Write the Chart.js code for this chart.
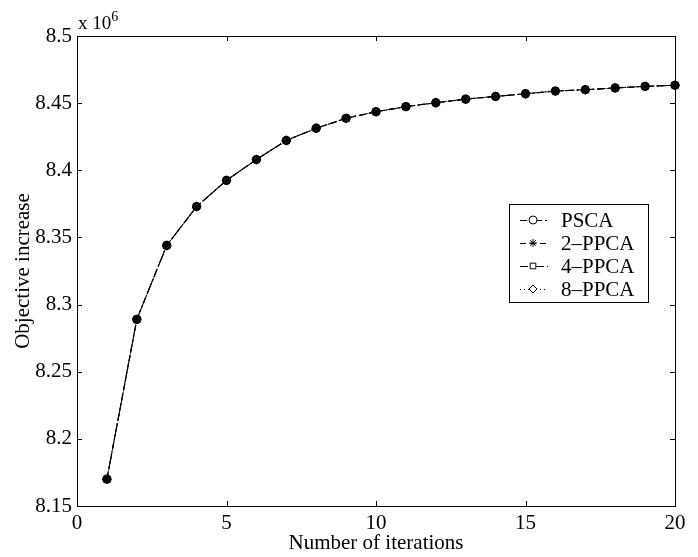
<!DOCTYPE html>
<html>
<head>
<meta charset="utf-8">
<script src="https://cdn.jsdelivr.net/npm/chart.js@4/dist/chart.umd.min.js"></script>
<style>
  html, body { margin: 0; padding: 0; background: #fff; }
  #chart { display: block; }
</style>
</head>
<body>
<canvas id="chart" width="698" height="557"></canvas>
<script>
// iterations on the x axis
const iterations = [1, 2, 3, 4, 5, 6, 7, 8, 9, 10, 11, 12, 13, 14, 15, 16, 17, 18, 19, 20];

// objective values (x 10^6), the four curves lie on top of each other
const psca  = [8.170, 8.289, 8.344, 8.373, 8.3925, 8.408, 8.4222, 8.4313, 8.4387, 8.4436, 8.4474, 8.4503, 8.453, 8.455, 8.457, 8.459, 8.460, 8.4613, 8.4625, 8.4633];
const ppca2 = [8.170, 8.289, 8.344, 8.373, 8.3925, 8.408, 8.4222, 8.4313, 8.4387, 8.4436, 8.4474, 8.4503, 8.453, 8.455, 8.457, 8.459, 8.460, 8.4613, 8.4625, 8.4633];
const ppca4 = [8.170, 8.289, 8.344, 8.373, 8.3925, 8.408, 8.4222, 8.4313, 8.4387, 8.4436, 8.4474, 8.4503, 8.453, 8.455, 8.457, 8.459, 8.460, 8.4613, 8.4625, 8.4633];
const ppca8 = [8.170, 8.289, 8.344, 8.373, 8.3925, 8.408, 8.4222, 8.4313, 8.4387, 8.4436, 8.4474, 8.4503, 8.453, 8.455, 8.457, 8.459, 8.460, 8.4613, 8.4625, 8.4633];

const seriesNames = ["PSCA", "2\u2013PPCA", "4\u2013PPCA", "8\u2013PPCA"];

// tick labels
const xTicks = [0, 5, 10, 15, 20];
const yTicks = [8.15, 8.2, 8.25, 8.3, 8.35, 8.4, 8.45, 8.5];

const FONT = "'Liberation Serif', 'Times New Roman', serif";

function points(ys) {
    return iterations.map((x, i) => ({x: x, y: ys[i]}));
}

function makeSet(label, ys, dash, style) {
    return {
        label: label,
        data: points(ys),
        borderColor: "#000",
        borderWidth: 1.1,
        borderDash: dash,
        backgroundColor: "rgba(0,0,0,0)",
        pointStyle: style,
        pointRadius: 4,
        pointBorderWidth: 1.3,
        pointBorderColor: "#000",
        pointBackgroundColor: "rgba(0,0,0,0)",
        tension: 0,
        fill: false,
        clip: false
    };
}

/*
    frame with inward ticks, the x 10^6 note and the boxed legend
*/
const matlabLook = {
    id: "matlabLook",
    afterDraw(chart) {
        const ctx = chart.ctx;
        const a = chart.chartArea;
        const xs = chart.scales.x, ys = chart.scales.y;
        const t = 5;
        ctx.save();
        ctx.strokeStyle = "#000";
        ctx.lineWidth = 1;
        ctx.setLineDash([]);
        ctx.strokeRect(Math.round(a.left) + 0.5, Math.round(a.top) + 0.5,
                       Math.round(a.right - a.left), Math.round(a.bottom - a.top));
        ctx.beginPath();
        xTicks.forEach(v => {
            const px = Math.round(xs.getPixelForValue(v)) + 0.5;
            ctx.moveTo(px, a.bottom); ctx.lineTo(px, a.bottom - t);
            ctx.moveTo(px, a.top); ctx.lineTo(px, a.top + t);
        });
        yTicks.forEach(v => {
            const py = Math.round(ys.getPixelForValue(v)) + 0.5;
            ctx.moveTo(a.left, py); ctx.lineTo(a.left + t, py);
            ctx.moveTo(a.right, py); ctx.lineTo(a.right - t, py);
        });
        ctx.stroke();

        // exponent note
        ctx.fillStyle = "#000";
        ctx.textBaseline = "alphabetic";
        ctx.textAlign = "left";
        ctx.font = "19px " + FONT;
        ctx.fillText("x 10", a.left + 1, 29);
        const w = ctx.measureText("x 10").width;
        ctx.font = "14px " + FONT;
        ctx.fillText("6", a.left + 1 + w, 21);

        // legend
        const bx = a.right - 166, by = 204, bw = 139, bh = 98;
        ctx.fillStyle = "#fff";
        ctx.fillRect(bx, by, bw, bh);
        ctx.strokeRect(bx + 0.5, by + 0.5, bw, bh);
        chart.data.datasets.forEach((ds, i) => {
            const y = by + 16 + i * 23;
            ctx.strokeStyle = "#000";
            ctx.lineWidth = 1;
            ctx.setLineDash(ds.borderDash);
            ctx.beginPath();
            ctx.moveTo(bx + 11, y + 0.5);
            ctx.lineTo(bx + 39, y + 0.5);
            ctx.stroke();
            ctx.setLineDash([]);
            ctx.fillStyle = "#fff";
            Chart.helpers.drawPoint(ctx, {pointStyle: ds.pointStyle, radius: 4, borderWidth: 1, rotation: 0}, bx + 24, y);
            ctx.fillStyle = "#000";
            ctx.font = "21px " + FONT;
            ctx.textBaseline = "middle";
            ctx.fillText(ds.label, bx + 52, y + 1);
        });
        ctx.restore();
    }
};

new Chart(document.getElementById("chart"), {
    type: "line",
    data: {
        datasets: [
            makeSet(seriesNames[0], psca, [7, 3, 2, 3], "circle"),
            makeSet(seriesNames[1], ppca2, [6, 4], "star"),
            makeSet(seriesNames[2], ppca4, [8, 3, 2, 3], "rect"),
            makeSet(seriesNames[3], ppca8, [1, 3], "rectRot")
        ]
    },
    options: {
        responsive: false,
        animation: false,
        devicePixelRatio: 1,
        layout: { padding: { top: 36, right: 23, left: 0, bottom: 0 } },
        plugins: {
            legend: { display: false },
            tooltip: { enabled: false }
        },
        scales: {
            x: {
                type: "linear",
                min: 0,
                max: 20,
                afterBuildTicks: s => { s.ticks = xTicks.map(v => ({value: v})); },
                afterFit: s => { s.height = 51; },
                grid: { display: false, drawTicks: false },
                border: { display: false },
                ticks: { color: "#000", padding: 5, maxRotation: 0, font: { family: FONT, size: 21 } },
                title: {
                    display: true,
                    text: "Number of iterations",
                    color: "#000",
                    padding: { top: 0, bottom: 1 },
                    font: { family: FONT, size: 21 }
                }
            },
            y: {
                type: "linear",
                min: 8.15,
                max: 8.5,
                afterBuildTicks: s => { s.ticks = yTicks.map(v => ({value: v})); },
                afterFit: s => { s.width = 77; },
                grid: { display: false, drawTicks: false },
                border: { display: false },
                ticks: {
                    color: "#000",
                    padding: 5,
                    font: { family: FONT, size: 21 },
                    callback: v => String(+v.toFixed(2))
                },
                title: {
                    display: true,
                    text: "Objective increase",
                    color: "#000",
                    padding: { top: 11, bottom: 0 },
                    font: { family: FONT, size: 21 }
                }
            }
        }
    },
    plugins: [matlabLook]
});
</script>
</body>
</html>
